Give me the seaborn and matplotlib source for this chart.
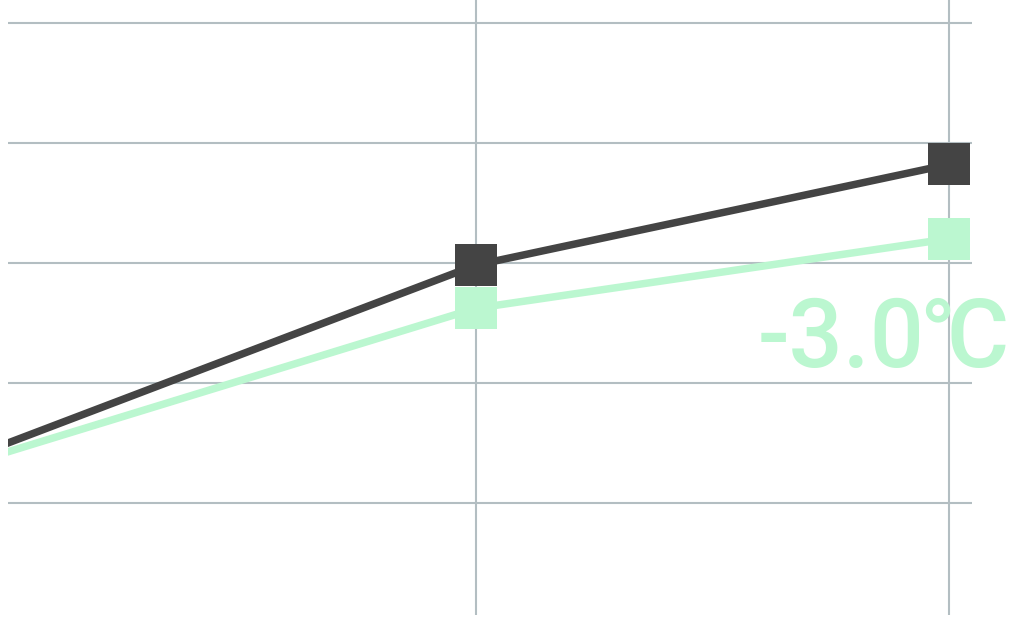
import matplotlib
matplotlib.use("Agg")
import matplotlib.pyplot as plt
from matplotlib import font_manager
import seaborn as sns
import pandas as pd

# ---- data ----
positions = [0, 1, 2]
series_names = ["dark", "light"]
dark_values = [0.48, 1.98, 2.82]
light_values = [0.41, 1.62, 2.20]
grid_ticks = [0, 1, 2, 3, 4]
annotation = "-3.0℃"

colors = {"dark": "#444444", "light": "#BBF7D0"}

df = pd.DataFrame({
    "x": positions * 2,
    "y": light_values + dark_values,
    "series": [series_names[1]] * 3 + [series_names[0]] * 3,
})

sns.set_theme(style="white")
available = {f.name for f in font_manager.fontManager.ttflist}
prefs = ["Liberation Sans Narrow", "DejaVu Sans Condensed", "Roboto",
         "Noto Sans CJK SC", "DejaVu Sans"]
fam = [f for f in prefs if f in available]
plt.rcParams["font.family"] = fam

W, H = 1011, 624
fig = plt.figure(figsize=(W / 100, H / 100), dpi=100)
ax = fig.add_axes([8 / W, 9 / H, (971.7 - 8) / W, 615 / H])

sns.lineplot(
    data=df, x="x", y="y", hue="series", hue_order=["light", "dark"],
    palette=colors, marker="s", markersize=30, markeredgewidth=0,
    markevery=[1, 2], linewidth=5.4, legend=False, ax=ax, sort=False,
)

ax.set_xlim(0.0116, 2.047)
ax.set_ylim(-0.936, 4.189)
ax.set_yticks(grid_ticks)
ax.set_xticks(positions[1:])
ax.grid(True, color="#B3BEC2", linewidth=1.5)
ax.set_axisbelow(True)
ax.tick_params(left=False, bottom=False, labelleft=False, labelbottom=False)
ax.set_xlabel("")
ax.set_ylabel("")
for s in ax.spines.values():
    s.set_visible(False)

txt = fig.text(758 / W, (H - 367) / H, annotation, color=colors["light"],
               fontsize=72, fontweight="medium", ha="left", va="baseline",
               family=fam)
fig.canvas.draw()
bb = txt.get_window_extent(fig.canvas.get_renderer())
target_w = 252.0
txt.set_fontsize(72 * target_w / bb.width)

fig.savefig("out.png", dpi=100)
